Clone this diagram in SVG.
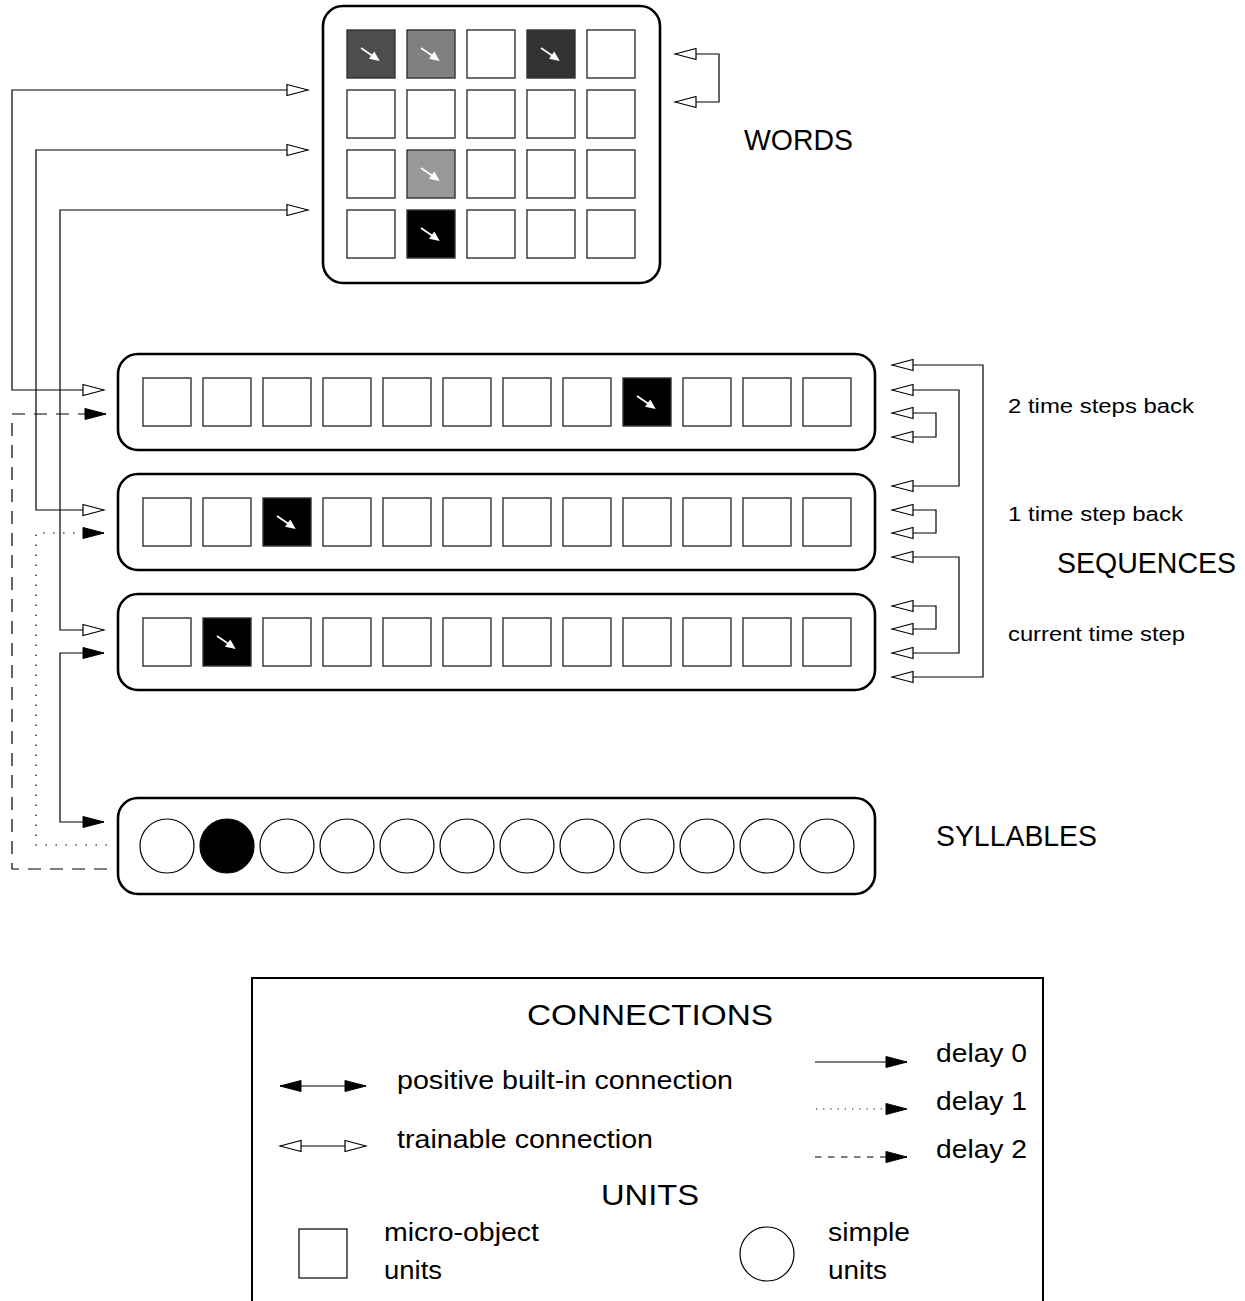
<svg xmlns="http://www.w3.org/2000/svg" width="1245" height="1301" viewBox="0 0 1245 1301">
<style>
.box{fill:#fff;stroke:#000;stroke-width:2.6}
.cells{fill:#fff}
.cell{stroke:#333;stroke-width:1.4}
.circ{fill:#fff;stroke:#000;stroke-width:1.2}
.con{fill:none;stroke:#000;stroke-width:1.2}
.dot{stroke-dasharray:1.5 8.5}
.dash{stroke-dasharray:13 9}
.ldot{stroke-dasharray:1.2 6}
.ldash{stroke-dasharray:6.5 6.5}
text{font-family:"Liberation Sans",Arial,sans-serif;fill:#000}
.big{font-size:29px}
.head{font-size:30px}
.lab{font-size:20px}
.body{font-size:25px}
</style>
<defs>
<marker id="open" viewBox="-2 -2 25 15" refX="21" refY="5.5" markerWidth="25" markerHeight="15" markerUnits="userSpaceOnUse" orient="auto-start-reverse">
<path d="M0,0 L21,5.5 L0,11 Z" fill="#fff" stroke="#000" stroke-width="1.2"/>
</marker>
<marker id="fill" viewBox="-2 -2 25 15" refX="21" refY="5.5" markerWidth="25" markerHeight="15" markerUnits="userSpaceOnUse" orient="auto-start-reverse">
<path d="M0,0 L21,5.5 L0,11 Z" fill="#000" stroke="#000" stroke-width="1"/>
</marker>
<g id="ca">
<line x1="14" y1="18" x2="25" y2="25.5" stroke="#fff" stroke-width="1.6"/>
<polygon points="32.7,31 22,28.8 27.3,21.5" fill="#fff"/>
</g>
<rect id="c" width="48" height="48" class="cell"/>
</defs>

<g id="words">
<rect class="box" x="323" y="6" width="337" height="277" rx="20"/>
<g class="cells">
<use href="#c" x="347" y="30" style="fill:#4d4d4d"/>
<use href="#c" x="407" y="30" style="fill:#808080"/>
<use href="#c" x="467" y="30"/>
<use href="#c" x="527" y="30" style="fill:#333"/>
<use href="#c" x="587" y="30"/>
<use href="#c" x="347" y="90"/><use href="#c" x="407" y="90"/><use href="#c" x="467" y="90"/><use href="#c" x="527" y="90"/><use href="#c" x="587" y="90"/>
<use href="#c" x="347" y="150"/>
<use href="#c" x="407" y="150" style="fill:#999"/>
<use href="#c" x="467" y="150"/><use href="#c" x="527" y="150"/><use href="#c" x="587" y="150"/>
<use href="#c" x="347" y="210"/>
<use href="#c" x="407" y="210" style="fill:#000"/>
<use href="#c" x="467" y="210"/><use href="#c" x="527" y="210"/><use href="#c" x="587" y="210"/>
</g>
<use href="#ca" x="347" y="30"/><use href="#ca" x="407" y="30"/><use href="#ca" x="527" y="30"/>
<use href="#ca" x="407" y="150"/><use href="#ca" x="407" y="210"/>
</g>

<g id="seq1">
<rect class="box" x="118" y="354" width="757" height="96" rx="20"/>
<g class="cells">
<use href="#c" x="143" y="378"/><use href="#c" x="203" y="378"/><use href="#c" x="263" y="378"/><use href="#c" x="323" y="378"/><use href="#c" x="383" y="378"/><use href="#c" x="443" y="378"/><use href="#c" x="503" y="378"/><use href="#c" x="563" y="378"/>
<use href="#c" x="623" y="378" style="fill:#000"/>
<use href="#c" x="683" y="378"/><use href="#c" x="743" y="378"/><use href="#c" x="803" y="378"/>
</g>
<use href="#ca" x="623" y="378"/>
</g>

<g id="seq2">
<rect class="box" x="118" y="474" width="757" height="96" rx="20"/>
<g class="cells">
<use href="#c" x="143" y="498"/><use href="#c" x="203" y="498"/>
<use href="#c" x="263" y="498" style="fill:#000"/>
<use href="#c" x="323" y="498"/><use href="#c" x="383" y="498"/><use href="#c" x="443" y="498"/><use href="#c" x="503" y="498"/><use href="#c" x="563" y="498"/><use href="#c" x="623" y="498"/><use href="#c" x="683" y="498"/><use href="#c" x="743" y="498"/><use href="#c" x="803" y="498"/>
</g>
<use href="#ca" x="263" y="498"/>
</g>

<g id="seq3">
<rect class="box" x="118" y="594" width="757" height="96" rx="20"/>
<g class="cells">
<use href="#c" x="143" y="618"/>
<use href="#c" x="203" y="618" style="fill:#000"/>
<use href="#c" x="263" y="618"/><use href="#c" x="323" y="618"/><use href="#c" x="383" y="618"/><use href="#c" x="443" y="618"/><use href="#c" x="503" y="618"/><use href="#c" x="563" y="618"/><use href="#c" x="623" y="618"/><use href="#c" x="683" y="618"/><use href="#c" x="743" y="618"/><use href="#c" x="803" y="618"/>
</g>
<use href="#ca" x="203" y="618"/>
</g>

<g id="syllables">
<rect class="box" x="118" y="798" width="757" height="96" rx="20"/>
<circle class="circ" cx="167" cy="846" r="27"/>
<circle class="circ" cx="227" cy="846" r="27" style="fill:#000"/>
<circle class="circ" cx="287" cy="846" r="27"/>
<circle class="circ" cx="347" cy="846" r="27"/>
<circle class="circ" cx="407" cy="846" r="27"/>
<circle class="circ" cx="467" cy="846" r="27"/>
<circle class="circ" cx="527" cy="846" r="27"/>
<circle class="circ" cx="587" cy="846" r="27"/>
<circle class="circ" cx="647" cy="846" r="27"/>
<circle class="circ" cx="707" cy="846" r="27"/>
<circle class="circ" cx="767" cy="846" r="27"/>
<circle class="circ" cx="827" cy="846" r="27"/>
</g>

<g id="connectors">
<path class="con" d="M104,390 H12 V90 H308" marker-start="url(#open)" marker-end="url(#open)"/>
<path class="con" d="M104,510 H36 V150 H308" marker-start="url(#open)" marker-end="url(#open)"/>
<path class="con" d="M104,630 H60 V210 H308" marker-start="url(#open)" marker-end="url(#open)"/>
<path class="con" d="M104,653 H60 V822 H104" marker-start="url(#fill)" marker-end="url(#fill)"/>
<path class="con dot" d="M107,845 H36 V533 H104" marker-end="url(#fill)"/>
<path class="con dash" d="M107,869 H12 V414 H106" marker-end="url(#fill)"/>
<path class="con" d="M675,54 H719 V102 H675" marker-start="url(#open)" marker-end="url(#open)"/>
<path class="con" d="M892,365 H983 V677 H892" marker-start="url(#open)" marker-end="url(#open)"/>
<path class="con" d="M892,390 H959 V486 H892" marker-start="url(#open)" marker-end="url(#open)"/>
<path class="con" d="M892,413 H936 V437 H892" marker-start="url(#open)" marker-end="url(#open)"/>
<path class="con" d="M892,510 H936 V533 H892" marker-start="url(#open)" marker-end="url(#open)"/>
<path class="con" d="M892,557 H959 V653 H892" marker-start="url(#open)" marker-end="url(#open)"/>
<path class="con" d="M892,606 H936 V629 H892" marker-start="url(#open)" marker-end="url(#open)"/>
</g>

<g id="labels">
<text class="big" x="744" y="150" textLength="109" lengthAdjust="spacingAndGlyphs">WORDS</text>
<text class="big" x="1057" y="573" textLength="179" lengthAdjust="spacingAndGlyphs">SEQUENCES</text>
<text class="big" x="936" y="846" textLength="161" lengthAdjust="spacingAndGlyphs">SYLLABLES</text>
<text class="lab" x="1008" y="413" textLength="186" lengthAdjust="spacingAndGlyphs">2 time steps back</text>
<text class="lab" x="1008" y="521" textLength="175" lengthAdjust="spacingAndGlyphs">1 time step back</text>
<text class="lab" x="1008" y="641" textLength="177" lengthAdjust="spacingAndGlyphs">current time step</text>
</g>

<g id="legend">
<rect x="252" y="978" width="791" height="330" fill="#fff" stroke="#000" stroke-width="2"/>
<text class="head" x="527" y="1025" textLength="246" lengthAdjust="spacingAndGlyphs">CONNECTIONS</text>
<line class="con" x1="280" y1="1086" x2="366" y2="1086" marker-start="url(#fill)" marker-end="url(#fill)"/>
<text class="body" x="397" y="1089" textLength="336" lengthAdjust="spacingAndGlyphs">positive built-in connection</text>
<line class="con" x1="280" y1="1146" x2="366" y2="1146" marker-start="url(#open)" marker-end="url(#open)"/>
<text class="body" x="397" y="1148" textLength="256" lengthAdjust="spacingAndGlyphs">trainable connection</text>
<line class="con" x1="815" y1="1062" x2="907" y2="1062" marker-end="url(#fill)"/>
<text class="body" x="936" y="1062" textLength="91" lengthAdjust="spacingAndGlyphs">delay 0</text>
<line class="con ldot" x1="816" y1="1109" x2="907" y2="1109" marker-end="url(#fill)"/>
<text class="body" x="936" y="1110" textLength="91" lengthAdjust="spacingAndGlyphs">delay 1</text>
<line class="con ldash" x1="815" y1="1157" x2="907" y2="1157" marker-end="url(#fill)"/>
<text class="body" x="936" y="1158" textLength="91" lengthAdjust="spacingAndGlyphs">delay 2</text>
<text class="head" x="601" y="1205" textLength="98" lengthAdjust="spacingAndGlyphs">UNITS</text>
<rect x="299" y="1229" width="48" height="49" fill="#fff" stroke="#000" stroke-width="1.2"/>
<text class="body" x="384" y="1241" textLength="155" lengthAdjust="spacingAndGlyphs">micro-object</text>
<text class="body" x="384" y="1279" textLength="58" lengthAdjust="spacingAndGlyphs">units</text>
<circle cx="767" cy="1254" r="27" fill="#fff" stroke="#000" stroke-width="1.2"/>
<text class="body" x="828" y="1241" textLength="82" lengthAdjust="spacingAndGlyphs">simple</text>
<text class="body" x="828" y="1279" textLength="59" lengthAdjust="spacingAndGlyphs">units</text>
</g>
</svg>
